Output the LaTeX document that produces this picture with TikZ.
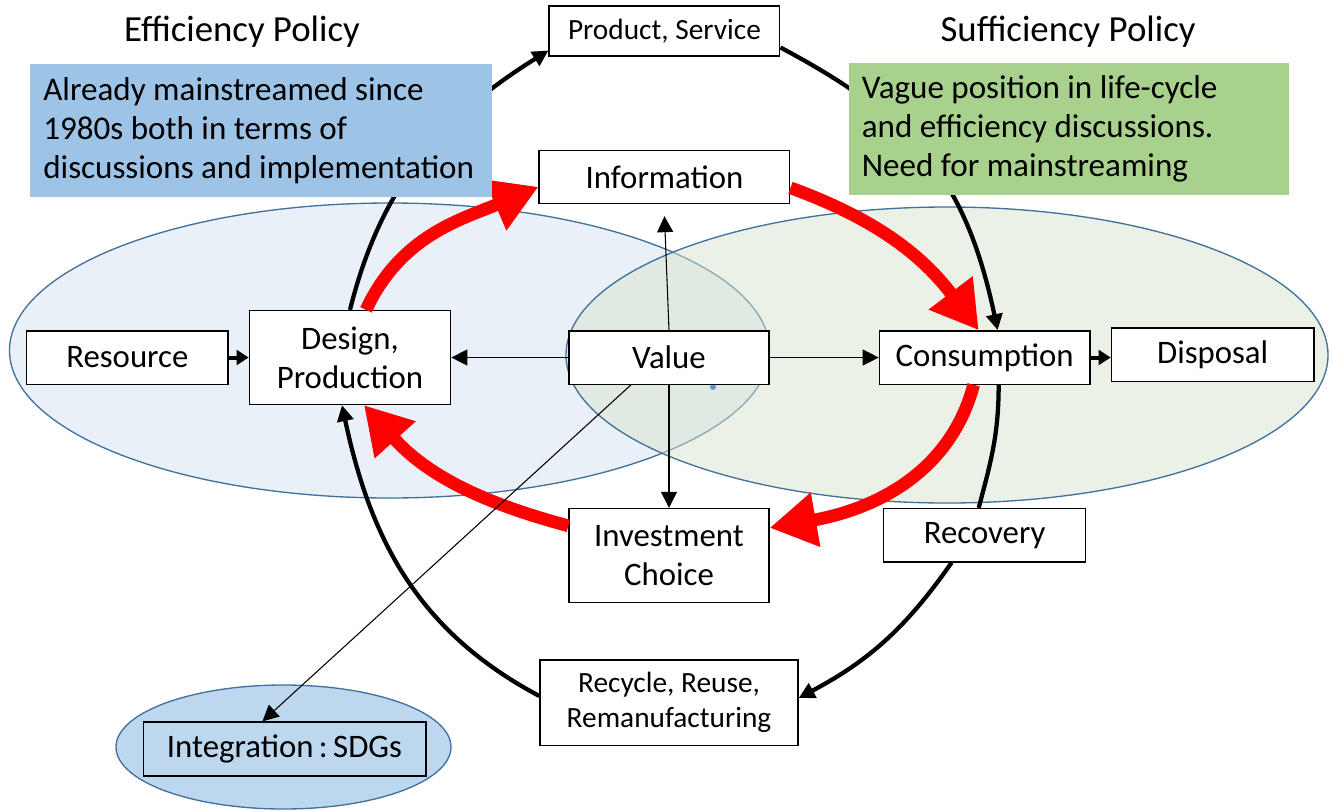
\documentclass[tikz,border=0pt]{standalone}
\usepackage{fontspec}
\setmainfont{Carlito}
\usetikzlibrary{positioning,calc,arrows.meta}
\definecolor{effblue}{HTML}{9DC3E6}
\definecolor{suffgreen}{HTML}{A9D18E}
\definecolor{zoneblue}{HTML}{EAF0F8}
\definecolor{zonegreen}{HTML}{D7E3CD}
\definecolor{zoneline}{HTML}{41719C}
\definecolor{sdgblue}{HTML}{BDD7EE}
\definecolor{dotblue}{HTML}{5B9BD5}

\begin{document}
\begin{tikzpicture}[x=0.75pt,y=0.75pt]
        \tikzstyle{main node}=[draw,fill=white,line width=1pt,inner sep=0pt,minimum height=40pt,align=center,font=\fontsize{24.6}{29}\selectfont]
        \tikzstyle{small node}=[main node,font=\fontsize{22}{26.4}\selectfont]
        \tikzstyle{note node}=[inner sep=0pt,inner xsep=10pt,align=flush left,font=\fontsize{24.8}{29.3}\selectfont]
        \tikzstyle{title node}=[font=\fontsize{27.6}{32}\selectfont]
        \tikzstyle{zone}=[draw=zoneline,line width=1pt]
        \tikzstyle{cycle line}=[line width=3.2pt,-{Triangle[length=12pt,width=12pt]}]
        \tikzstyle{cycle plain}=[line width=3.2pt]
        \tikzstyle{red flow}=[red,line width=9.5pt,-{Triangle[length=35pt,width=39pt]}]
        \tikzstyle{value link}=[line width=0.8pt,-{Triangle[length=12pt,width=12pt]}]
        \tikzstyle{flow arrow}=[line width=3pt,-{Triangle[length=9pt,width=11pt]}]
        \useasboundingbox (0,0) rectangle (1332,-811);

        \draw[zone,fill=zoneblue] (389.5,-350.5) ellipse [x radius=380, y radius=147.5];
        \draw[zone,fill=zonegreen,fill opacity=0.5] (947,-355) ellipse [x radius=381, y radius=148];
        \draw[zone,fill=sdgblue] (283.5,-747) ellipse [x radius=167.5, y radius=62];
        \fill[dotblue] (713,-387) circle (3);

        \node[main node,minimum width=150pt] (Value) at (669,-357.5) {Value};
        \node[main node,minimum width=151pt,minimum height=70.5pt] (Design) [left=87.75pt of Value] {Design,\\Production};
        \node[main node,minimum width=151pt] (Resource) [left=15pt of Design] {Resource};
        \node[main node,minimum width=158pt] (Consumption) [right=81.75pt of Value] {Consumption};
        \node[main node,minimum width=152pt] (Disposal) [right=15pt of Consumption,yshift=2.25pt] {Disposal};
        \node[main node,minimum width=188pt] (Information) [above=94.5pt of Value,xshift=-3.4pt] {Information};
        \node[small node,minimum width=173pt,minimum height=37.5pt] (Product) [above=69.75pt of Information] {Product, Service};
        \node[main node,minimum width=150pt,minimum height=70.5pt] (Investment) [below=92.25pt of Value] {Investment\\Choice};
        \node[main node,minimum width=151.5pt] (Recovery) [below=92.25pt of Consumption] {Recovery};
        \node[small node,minimum width=193.5pt,minimum height=64pt] (Recycle) [below=42pt of Investment] {Recycle, Reuse,\\Remanufacturing};
        \node[main node,fill=none,minimum width=212pt,minimum height=40.5pt] (SDGs) at (284.5,-749) {Integration\,:\,SDGs};

        \draw[cycle line] (Design.north) to[out=76,in=212] ($(Product.south west)+(0,6)$);
        \draw[cycle line] ($(Product.south east)+(0,9)$) to[out=-28,in=102,looseness=1.1] ($(Consumption.north)+(13,0)$);
        \draw[cycle plain] ($(Consumption.south)+(14,0)$) to[out=-90,in=75] ($(Recovery.north)+(-6,0)$);
        \draw[cycle line] ($(Recovery.south)+(-33,0)$) to[out=-125,in=28] ($(Recycle.east)+(0,4.5)$);
        \draw[cycle line] ($(Recycle.west)+(0,6.5)$) to[out=152,in=-78] ($(Design.south)+(-8,0)$);

        \draw[red flow] ($(Design.north)+(16,0)$) to[out=65,in=203] ($(Information.west)+(0,-10)$);
        \draw[red flow] ($(Information.east)+(0,-11)$) to[out=-20,in=127] ($(Consumption.north)+(-6,0)$);
        \draw[red flow] ($(Consumption.south)+(-11,0)$) to[out=-105,in=10] ($(Investment.north east)+(0,-20)$);
        \draw[red flow] ($(Investment.north west)+(0,-18)$) to[out=165,in=-48] ($(Design.south)+(14,0)$);

        \draw[value link] (Value.north) -- ($(Information.south)+(0,-12)$);
        \draw[value link] (Value.west) -- (Value.west -| Design.east);
        \draw[value link] (Value.east) -- (Consumption.west);
        \draw[value link] (Value.south) -- (Investment.north);
        \draw[value link] ($(Value.south)+(-38,0)$) -- ($(SDGs.north)+(-22,0)$);
        \draw[flow arrow] (Resource.east) -- (Resource.east -| Design.west);
        \draw[flow arrow] (Consumption.east) -- (Consumption.east -| Disposal.west);

        \node[note node,fill=effblue,text width=326.5pt,minimum height=100pt] (EffNote) at (261,-130.5) {Already mainstreamed since\\1980s both in terms of\\discussions and implementation};
        \node[note node,fill=suffgreen,text width=310pt,minimum height=99pt] (SuffNote) at (1068.5,-129) {Vague position in life-cycle\\and efficiency discussions.\\Need for mainstreaming};
        \node[title node] (EffTitle) at (242,-32) {Efficiency Policy};
        \node[title node] (SuffTitle) at (1068,-32) {Sufficiency Policy};
\end{tikzpicture}
\end{document}
